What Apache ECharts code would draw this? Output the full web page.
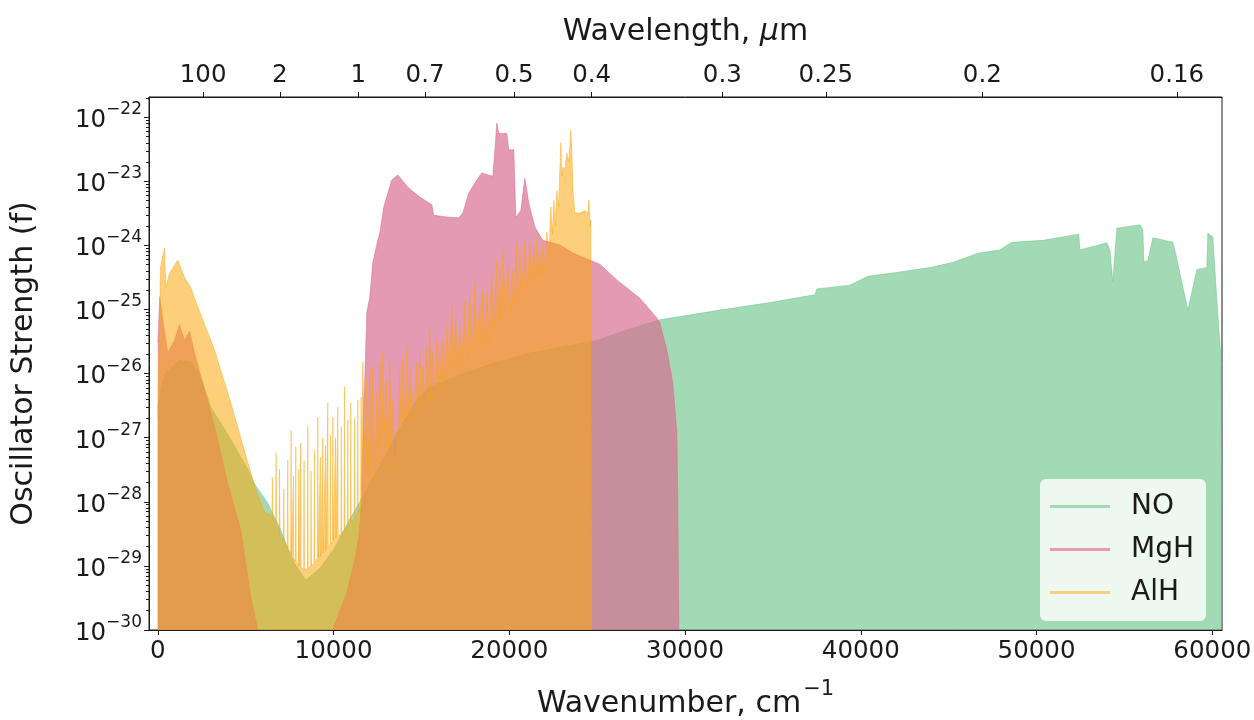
<!DOCTYPE html>
<html><head><meta charset="utf-8">
<script src="https://cdn.jsdelivr.net/npm/echarts@6/dist/echarts.min.js"></script>
<style>html,body{margin:0;padding:0;background:#fff}#c{width:1254px;height:720px}</style>
</head><body><div id="c"></div>
<script>
const seriesNames = ['NO', 'MgH', 'AlH'];

const noData = [
[0,3e-27],[400,1e-26],[1200,1.6e-26],[1900,1.5e-26],[2500,8e-27],[3016,3.0e-27],[4100,1.0e-27],[5121,3.2e-28],[5502,1.9e-28],[6259,9.5e-29],[6999,3.6e-29],[7397,1.9e-29],[7778,1.1e-29],[8421,6.0e-30],[9275,9.5e-30],[10054,1.9e-29],[10811,4.7e-29],[11551,1.07e-28],[12063,1.9e-28],[13201,7.1e-28],[13941,1.7e-27],[14737,3.9e-27],[15477,6.2e-27],[17355,1.0e-26],[19289,1.5e-26],[21167,2.1e-26],[23044,2.6e-26],[24979,3.3e-26],[26686,4.8e-26],[28564,6.9e-26],[31978,9.8e-26],[34652,1.26e-25],[37383,1.7e-25],[37497,2.1e-25],[39375,2.4e-25],[40400,3.3e-25],[42220,3.85e-25],[44098,4.6e-25],[45292,5.5e-25],[46715,7.6e-25],[47910,8.5e-25],[48593,1.12e-24],[50357,1.2e-24],[52405,1.5e-24],[52462,8.5e-25],[53999,1.1e-24],[54170,8.5e-25],[54340,2.7e-25],[54568,1.86e-24],[55877,2.1e-24],[56047,1.74e-24],[56104,5.5e-25],[56331,5.8e-25],[56616,1.32e-24],[57754,1.12e-24],[57868,8.5e-25],[58152,3.7e-25],[58607,9.8e-26],[59119,4.2e-25],[59688,4.5e-25],[59745,1.55e-24],[60030,1.35e-24],[60258,1.4e-25],[60486,1.8e-26],[60550,1e-28]
];

const mghData = [
[0,3e-26],[114,1.57e-25],[285,6.9e-26],[569,2.1e-26],[950,3.3e-26],[1235,5.8e-26],[1519,3.3e-26],[1804,4.6e-26],[2088,2.1e-26],[2657,5.5e-27],[3226,1.5e-27],[3983,1.9e-28],[4723,3.6e-29],[5292,3.2e-30],[5690,1e-30],[9958,1e-30],[10356,2.0e-30],[10754,3.8e-30],[11209,1.2e-29],[11437,2.8e-29],[11608,1.07e-28],[11721,3.9e-27],[11778,8.0e-27],[11892,8.9e-26],[12063,1.57e-25],[12233,5.4e-25],[12518,1.2e-24],[12632,1.55e-24],[12859,4.0e-24],[13315,1.05e-23],[13656,1.26e-23],[14225,8.1e-24],[14908,5.7e-24],[15591,4.3e-24],[15704,2.95e-24],[16558,2.75e-24],[17127,2.7e-24],[17355,3.2e-24],[17696,6.6e-24],[18151,1.05e-23],[18436,1.35e-23],[19062,1.2e-23],[19175,2.9e-23],[19289,8.1e-23],[19403,5.6e-23],[19858,5.6e-23],[19972,3.1e-23],[20256,3.1e-23],[20370,2.75e-24],[20655,3.5e-24],[20882,1.12e-23],[21110,4.6e-24],[21451,1.95e-24],[21906,1.2e-24],[22874,1.02e-24],[23614,7.6e-25],[24581,5.9e-25],[25150,5.1e-25],[26117,2.9e-25],[27426,1.5e-25],[28393,7.4e-26],[28564,6.3e-26],[28962,2.35e-26],[29304,7.1e-27],[29531,1.2e-27],[29588,1.07e-28],[29645,1e-30]
];

const alhData = [
[0,2e-27],[154,4.6e-25],[381,9.1e-25],[455,2.2e-25],[666,3.7e-25],[1138,5.9e-25],[1519,3.2e-25],[1878,2.2e-25],[2276,1.1e-25],[3226,2.35e-26],[4154,3.5e-27],[5121,4.1e-28],[5600,1.5e-28],[6071,7e-29],
[6500,6e-29],[6520,2.4e-28],[6545,5.8e-29],[6700,4.5e-29],[6731,5.8e-28],[6760,4.3e-29],[6900,3.2e-29],[6925,3.2e-28],[6950,3.0e-29],[7150,2.5e-29],[7172,1.6e-28],[7195,2.4e-29],[7370,1.9e-29],[7397,4.5e-28],[7420,1.8e-29],[7560,1.6e-29],[7585,1.3e-27],[7610,1.5e-29],[7700,1.4e-29],[7720,2.5e-28],[7740,1.3e-29],[7830,1.2e-29],[7852,7.2e-28],[7875,1.15e-29],[8000,1.0e-29],[8020,3.2e-28],[8040,1.0e-29],[8115,9.5e-30],[8137,8.3e-28],[8160,9.3e-30],[8300,9e-30],[8322,4.4e-28],[8345,9e-30],[8510,8.8e-30],[8535,1.5e-27],[8560,9.0e-30],[8700,1.0e-29],[8722,3.0e-28],[8745,1.0e-29],[8895,1.1e-29],[8916,6.4e-28],[8940,1.15e-29],[9080,1.3e-29],[9104,2.1e-27],[9130,1.35e-29],[9230,1.4e-29],[9252,5.0e-28],[9275,1.4e-29],[9365,1.5e-29],[9389,1.0e-27],[9410,1.6e-29],[9520,1.7e-29],[9542,7.5e-28],[9565,1.7e-29],[9650,1.8e-29],[9673,3.5e-27],[9700,1.9e-29],[9800,2.1e-29],[9822,1.1e-27],[9845,2.2e-29],[9935,2.4e-29],[9958,2.1e-27],[9980,2.5e-29],[10090,2.6e-29],[10112,1.0e-27],[10135,2.7e-29],[10220,2.8e-29],[10242,3.0e-27],[10265,2.9e-29],[10420,3.2e-29],[10442,1.5e-27],[10465,3.3e-29],[10600,3.6e-29],[10623,6.2e-27],[10645,3.7e-29],[10790,4.0e-29],[10811,1.9e-27],[10835,4.2e-29],[10960,4.6e-29],[10982,3.5e-27],[11005,4.8e-29],[11180,5.5e-29],[11202,2.0e-27],[11225,5.7e-29],[11355,6.5e-29],[11380,3.9e-27],[11405,7.0e-29],[11540,8.3e-29],[11568,4.3e-27],[11600,1.5e-28],
[11665,1.5e-26],[11750,6.4e-28],[11892,8.5e-27],[11980,3.2e-28],[12063,1.15e-26],[12150,4.5e-28],[12233,1.3e-26],[12350,2.2e-28],[12461,5.5e-27],[12550,6.4e-28],[12632,1.5e-26],[12720,9.2e-28],[12803,2.1e-26],[12900,1.3e-27],[13030,8.0e-27],[13120,6.4e-28],[13201,1.5e-26],[13300,4.5e-28],[13372,3.9e-27],[13480,3.2e-28],[13599,1.3e-27],[13690,9.2e-28],[13770,1.15e-26],[13860,1.3e-27],[13941,1.6e-26],[14050,1.9e-27],[14168,2.6e-26],[14250,1.9e-27],[14339,1.15e-26],[14420,2.7e-27],[14510,5.5e-27],[14620,1.9e-27],[14737,1.5e-26],[14820,2.7e-27],[14908,2.1e-26],[15000,3.9e-27],[15079,1.3e-26],[15200,2.7e-27],[15306,2.6e-26],[15400,3.9e-27],[15477,4.8e-26],[15560,5.5e-27],[15648,2.1e-26],[15760,3.9e-27],[15875,3.3e-26],[15960,8.0e-27],[16046,2.6e-26],[16130,5.5e-27],[16217,3.3e-26],[16330,8.0e-27],[16444,5.4e-26],[16600,1.15e-26],[16729,1.26e-25],[16840,1.3e-26],[16956,6.9e-26],[17070,1.15e-26],[17184,5.4e-26],[17300,1.5e-26],[17468,1.4e-25],[17600,1.6e-26],[17753,1.8e-25],[17900,2.1e-26],[18037,2.6e-25],[18180,2.6e-26],[18322,1.4e-25],[18400,2.6e-26],[18493,2.0e-25],[18600,3.3e-26],[18720,1.8e-25],[18850,3.3e-26],[19005,3.5e-25],[19150,4.8e-26],[19289,5.9e-25],[19380,6.9e-26],[19460,4.2e-25],[19550,6.9e-26],[19631,8.5e-25],[19750,9.8e-26],[19915,4.9e-25],[20050,9.8e-26],[20200,4.2e-25],[20300,1.26e-25],[20427,1.1e-24],[20510,1.4e-25],[20598,8.5e-25],[20700,1.8e-25],[20882,1.1e-24],[21000,2.0e-25],[21167,1.1e-24],[21280,2.6e-25],[21394,9.4e-25],[21480,2.6e-25],[21565,1.35e-24],[21650,3.5e-25],[21736,8.5e-25],[21820,3.5e-25],[21907,9.4e-25],[22000,4.2e-25],[22134,1.6e-24],[22250,7.1e-25],[22362,4.0e-24],[22450,1.5e-24],[22532,5.1e-24],[22620,2.0e-24],[22703,7.2e-24],[22800,4.0e-24],[22931,4.0e-23],[22990,1.2e-23],[23045,1.66e-23],[23150,1.5e-23],[23272,2.75e-23],[23386,2.0e-23],[23500,6.3e-23],[23560,3.0e-23],[23614,8.1e-24],[23727,3.2e-24],[24012,3.2e-24],[24296,3.5e-24],[24467,3.2e-24],[24530,5.1e-24],[24600,2.0e-24],[24640,2.5e-24],[24680,1e-30]
];

const xTickValues = [0, 10000, 20000, 30000, 40000, 50000, 60000];
const xTickLabels = ['0', '10000', '20000', '30000', '40000', '50000', '60000'];
const topTickValues = [2578, 6942, 11403, 15209, 20273, 24683, 32120, 38009, 46914, 57983];
const topTickLabels = ['100', '2', '1', '0.7', '0.5', '0.4', '0.3', '0.25', '0.2', '0.16'];
const yTickValues = [1e-30, 1e-29, 1e-28, 1e-27, 1e-26, 1e-25, 1e-24, 1e-23, 1e-22];
const yTickExponents = [-30, -29, -28, -27, -26, -25, -24, -23, -22];
const yTickExpLabels = ['−30', '−29', '−28', '−27', '−26', '−25', '−24', '−23', '−22'];

const seriesColors = ['#66c185', '#d86d8f', '#fba60c'];
const seriesOpacity = [0.6, 0.69, 0.54];
const legendColors = ['#a3dab6', '#e49ab2', '#fdcf7c'];

const X_MIN = -500, X_MAX = 60550, Y_MIN = 1e-30, Y_MAX = 2.07e-22;
const E_MIN = -30, E_MAX = Math.log10(Y_MAX);
const FONT = 'DejaVu Sans';
const INK = '#1a1a1a';

// minor tick positions on the exponent (log10) guide axis
const yMinorExp = [];
for (let e = -30; e <= -22; e++) {
  for (let m = 2; m <= 9; m++) {
    const v = e + Math.log10(m);
    if (v < E_MAX) yMinorExp.push(v);
  }
}

function nearestIdx(arr, v, tol) {
  for (let i = 0; i < arr.length; i++) {
    if (Math.abs(arr[i] - v) <= tol) return i;
  }
  return -1;
}

const chart = echarts.init(document.getElementById('c'), null, {renderer: 'canvas'});
const allData = [noData, mghData, alhData];

chart.setOption({
  animation: false,
  backgroundColor: '#ffffff',
  textStyle: {fontFamily: FONT, color: INK},
  grid: {left: 149, right: 32, top: 97, bottom: 90, containLabel: false, outerBoundsMode: 'none',
    show: true, borderColor: INK, borderWidth: 1, backgroundColor: 'transparent'},
  legend: {
    orient: 'vertical',
    left: 1040, top: 479,
    padding: [11, 12, 12, 10],
    itemGap: 10,
    itemWidth: 60, itemHeight: 3,
    icon: 'rect',
    backgroundColor: 'rgba(255,255,255,0.8)',
    borderRadius: 6,
    borderWidth: 0,
    textStyle: {fontSize: 28, lineHeight: 33, color: INK, fontFamily: FONT, padding: [0, 0, 0, 16]},
    data: seriesNames.map((n, i) => ({name: n, itemStyle: {color: legendColors[i], opacity: 1}}))
  },
  xAxis: [
    {
      type: 'value', position: 'bottom', min: X_MIN, max: X_MAX,
      name: '{n|Wavenumber, cm}{s|−1}', nameLocation: 'middle', nameGap: 49,
      nameTextStyle: {fontSize: 30, color: INK, fontFamily: FONT,
        rich: {
          n: {fontSize: 30, lineHeight: 40, verticalAlign: 'bottom', color: INK, fontFamily: FONT},
          s: {fontSize: 21, lineHeight: 21, verticalAlign: 'top', color: INK, fontFamily: FONT, padding: [0, 0, 0, 2]}
        }},
      splitLine: {show: false},
      axisLine: {show: true, onZero: false, lineStyle: {color: INK, width: 1}},
      axisTick: {show: true, length: 5, lineStyle: {color: INK}, customValues: xTickValues},
      axisLabel: {fontSize: 24.5, color: INK, margin: 9, fontFamily: FONT, customValues: xTickValues,
        formatter: v => { const i = nearestIdx(xTickValues, v, 1); return i < 0 ? '' : xTickLabels[i]; }}
    },
    {
      type: 'value', position: 'top', min: X_MIN, max: X_MAX,
      name: 'Wavelength, {i|μ}m', nameLocation: 'middle', nameGap: 50,
      nameTextStyle: {fontSize: 30, color: INK, fontFamily: FONT,
        rich: {i: {fontSize: 30, fontStyle: 'italic', color: INK, fontFamily: FONT}}},
      splitLine: {show: false},
      axisLine: {show: true, onZero: false, lineStyle: {color: INK, width: 1}},
      axisTick: {show: true, length: 5, lineStyle: {color: INK}, customValues: topTickValues},
      axisLabel: {fontSize: 24.5, color: INK, margin: 9, fontFamily: FONT, customValues: topTickValues,
        formatter: v => { const i = nearestIdx(topTickValues, v, 1); return i < 0 ? '' : topTickLabels[i]; }}
    }
  ],
  yAxis: [
    {
      // data axis (log scale); its own ticks/labels are hidden, drawn by the guide axes below
      type: 'log', logBase: 10, min: Y_MIN, max: Y_MAX, position: 'left',
      splitLine: {show: false},
      axisLine: {show: true, onZero: false, lineStyle: {color: INK, width: 1}},
      axisTick: {show: false, customValues: yTickValues},
      axisLabel: {show: false, customValues: yTickValues}
    },
    {
      type: 'value', min: E_MIN, max: E_MAX, position: 'left', offset: 0,
      name: 'Oscillator Strength (f)', nameLocation: 'middle', nameGap: 110, nameRotate: 90,
      nameTextStyle: {fontSize: 30, color: INK, fontFamily: FONT},
      splitLine: {show: false},
      axisLine: {show: false, onZero: false},
      axisTick: {show: true, length: 5, lineStyle: {color: INK}, customValues: yTickExponents},
      axisLabel: {color: INK, margin: 7, fontFamily: FONT, customValues: yTickExponents,
        formatter: v => {
          const i = nearestIdx(yTickExponents, v, 0.01);
          return i < 0 ? '' : '{b|10}{s|' + yTickExpLabels[i] + '}';
        },
        rich: {
          b: {fontSize: 24.5, lineHeight: 32, verticalAlign: 'bottom', color: INK, fontFamily: FONT},
          s: {fontSize: 17, lineHeight: 17, verticalAlign: 'top', color: INK, fontFamily: FONT}
        }}
    },
    {
      type: 'value', min: E_MIN, max: E_MAX, position: 'left', offset: 0,
      splitLine: {show: false},
      axisLine: {show: false, onZero: false},
      axisLabel: {show: false, customValues: yMinorExp},
      axisTick: {show: true, inside: false, length: 3, lineStyle: {color: INK}, customValues: yMinorExp}
    }
  ],
  series: allData.map((d, i) => ({
    name: seriesNames[i],
    type: 'line',
    xAxisIndex: 0, yAxisIndex: 0,
    data: d,
    showSymbol: false,
    symbol: 'none',
    clip: true,
    z: 2 + i,
    itemStyle: {color: legendColors[i]},
    lineStyle: {color: seriesColors[i], width: 0.8, opacity: seriesOpacity[i]},
    areaStyle: {color: seriesColors[i], opacity: seriesOpacity[i], origin: Y_MIN}
  }))
});
</script>
</body></html>
